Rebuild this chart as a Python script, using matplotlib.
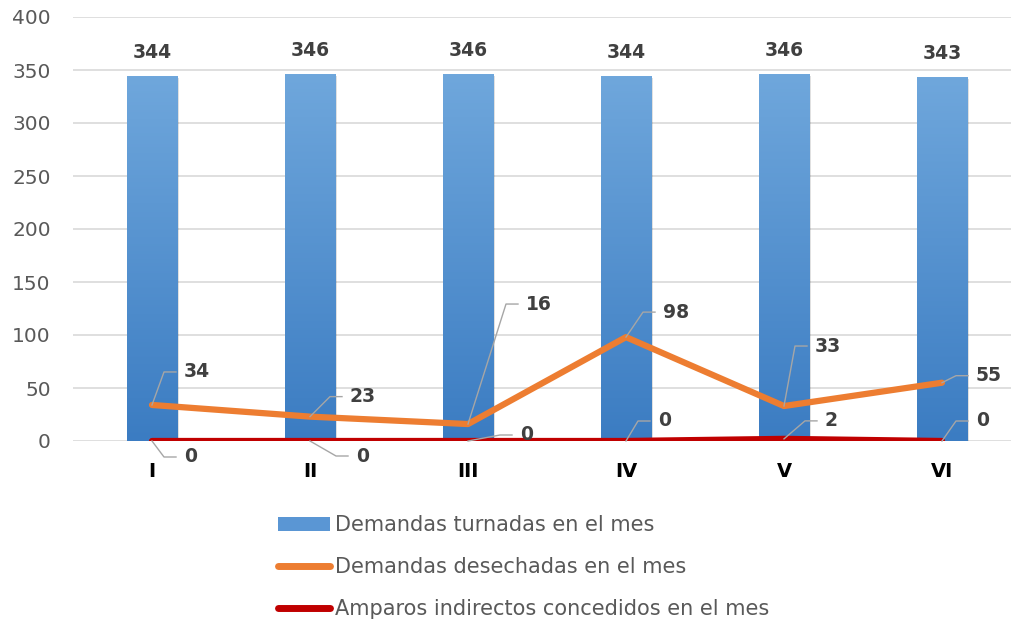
import numpy as np
import matplotlib.pyplot as plt
from matplotlib.patches import Patch, Rectangle
from matplotlib.lines import Line2D
from matplotlib.transforms import IdentityTransform
from matplotlib.colors import LinearSegmentedColormap

# Datos
meses = ['I', 'II', 'III', 'IV', 'V', 'VI']
turnadas = [344, 346, 346, 344, 346, 343]
desechadas = [34, 23, 16, 98, 33, 55]
amparos = [0, 0, 0, 0, 2, 0]
etiquetas_series = ['Demandas turnadas en el mes',
                    'Demandas desechadas en el mes',
                    'Amparos indirectos concedidos en el mes']

# Posiciones de las etiquetas con guia (pixeles: dx, dy hacia abajo)
guia_desechadas = [(12, -33), (20, -20), (38, -120), (17, -25), (11, -60), (14, -7)]
guia_amparos = [(12, 16), (26, 15), (32, -6), (12, -20), (21, -18), (14, -20)]

plt.rcParams['font.family'] = ['DejaVu Sans']

azul_top = '#6fa7dc'
azul_bot = '#3b7cc2'
naranja = '#ED7D31'
rojo = '#C00000'
gris_txt = '#595959'

fig = plt.figure(figsize=(10.12, 6.21), dpi=100)
ax = fig.add_axes([73 / 1012, 1 - 441 / 621, 948 / 1012, 424 / 621])

x = np.arange(len(meses))
ax.set_xlim(-0.5, len(meses) - 0.5)
ax.set_ylim(0, 400)

# Barras con degradado
cmap = LinearSegmentedColormap.from_list('azul', [azul_bot, azul_top])
grad = np.linspace(0, 1, 256).reshape(-1, 1)
bars = ax.bar(x, turnadas, width=0.32, color='none', zorder=2)
for b in bars:
    bx, by, bw, bh = b.get_x(), b.get_y(), b.get_width(), b.get_height()
    sombra = Rectangle((bx + 0.012, by), bw, bh - 1.5, facecolor='#000000',
                       alpha=0.12, edgecolor='none', zorder=1.5)
    ax.add_patch(sombra)
    im = ax.imshow(grad, extent=(bx, bx + bw, by, by + bh), origin='lower',
                   cmap=cmap, aspect='auto', zorder=2)
    im.set_clip_path(b)
ax.set_xlim(-0.5, len(meses) - 0.5)
ax.set_ylim(0, 400)

for xi, v in zip(x, turnadas):
    ax.annotate(str(v), (xi, v), xytext=(0, 24), textcoords='offset pixels',
                ha='center', va='center', fontsize=13.5, fontweight='bold',
                color='#404040')

# Lineas
ax.plot(x, desechadas, color=naranja, lw=4.5, solid_capstyle='round', zorder=4)
ax.plot(x, amparos, color=rojo, lw=4.5, solid_capstyle='round', zorder=4)

# Ejes y cuadricula
ax.yaxis.grid(True, color='#d9d9d9', lw=1.2)
ax.set_axisbelow(True)
for s in ax.spines.values():
    s.set_visible(False)
ax.set_yticks(range(0, 401, 50))
ax.tick_params(axis='y', length=0, labelsize=14.5, labelcolor=gris_txt, pad=16)
ax.set_xticks(x)
ax.set_xticklabels(meses, fontsize=14, fontweight='bold', color='black')
ax.tick_params(axis='x', length=0, pad=15)

# Etiquetas con lineas guia
def etiqueta(xi, v, off):
    px, py = ax.transData.transform((xi, v))
    cx, cy = px + off[0], py - off[1]
    ax.plot([px, cx, cx + 12], [py, cy, cy], color='#a6a6a6', lw=1,
            transform=IdentityTransform(), zorder=5, clip_on=False)
    fig.text((cx + 20) / 1012, cy / 621, str(v), ha='left', va='center',
             fontsize=13.5, fontweight='bold', color='#404040')

for xi, v, off in zip(x, desechadas, guia_desechadas):
    etiqueta(xi, v, off)
for xi, v, off in zip(x, amparos, guia_amparos):
    etiqueta(xi, v, off)

# Leyenda
handles = [Patch(facecolor='#5a96d4', edgecolor='none'),
           Line2D([0], [0], color=naranja, lw=5, solid_capstyle='round'),
           Line2D([0], [0], color=rojo, lw=5, solid_capstyle='round')]
leg = fig.legend(handles, etiquetas_series, loc='upper left',
                 bbox_to_anchor=(278 / 1012, 1 - 515 / 621), frameon=False,
                 fontsize=15, handlelength=2.5, handleheight=0.65,
                 handletextpad=0.25, labelspacing=1.05, borderpad=0,
                 borderaxespad=0)
for t in leg.get_texts():
    t.set_color(gris_txt)

fig.savefig('out.png', dpi=100)
